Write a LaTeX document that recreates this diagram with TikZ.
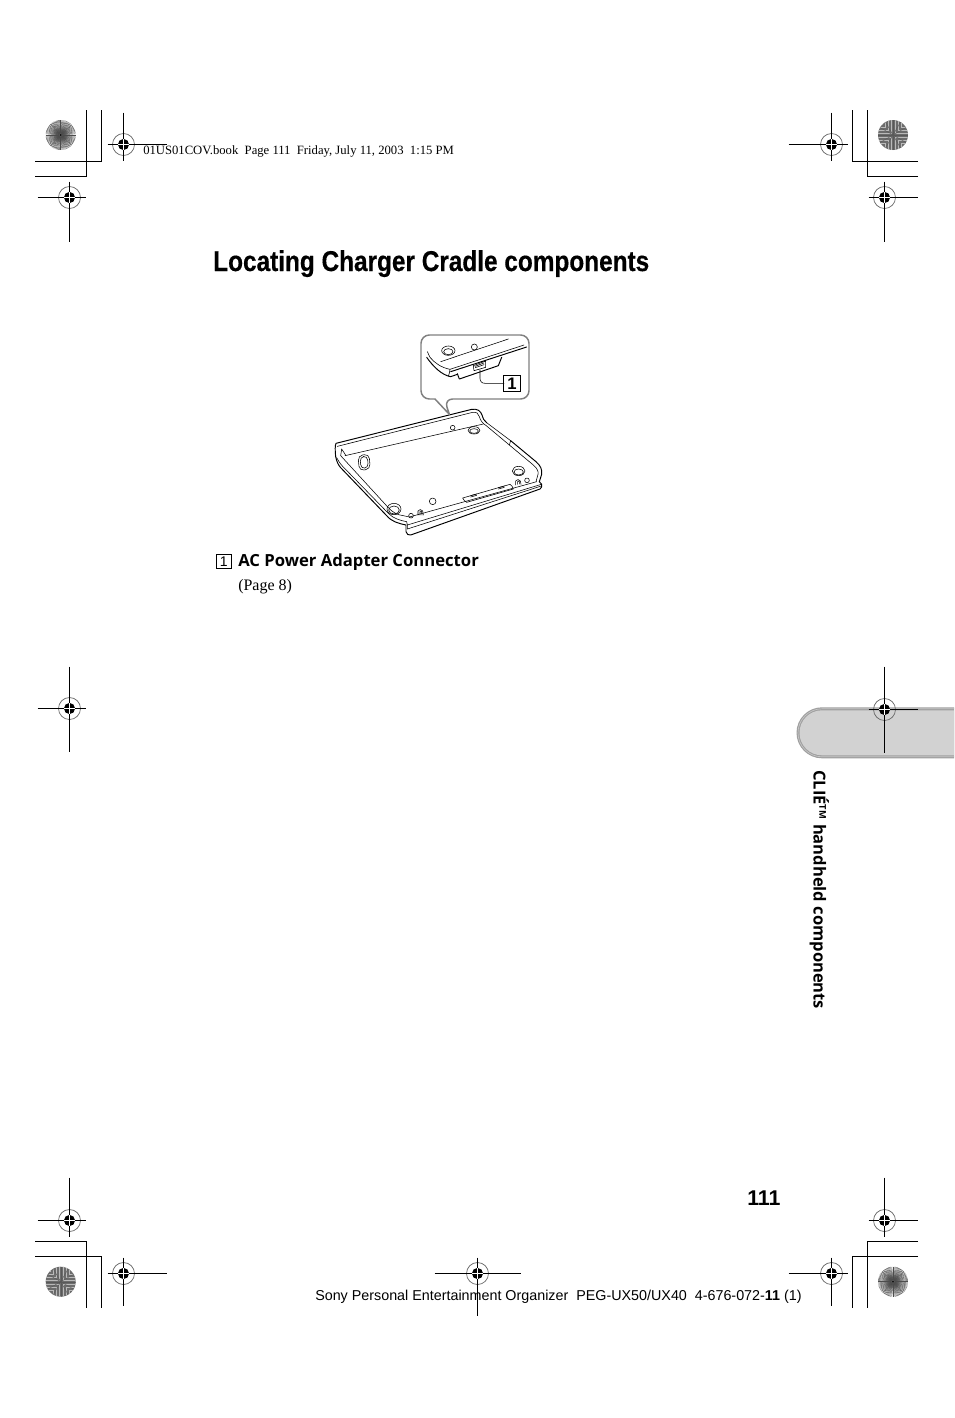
\documentclass[tikz,border=0pt]{standalone}
\usepackage{fontspec}
\setmainfont{Liberation Serif}
\setsansfont{Liberation Sans}
\newfontfamily\titlefont[FakeStretch=0.85,FakeBold=0.4]{Liberation Sans}
\newfontfamily\humanfont{Open Sans}
\tikzset{
  crop/.style={line width=0.78pt,black},
  lineart/.style={line width=0.42pt,black,line join=round,line cap=round},
  heavyart/.style={line width=0.72pt,black,line join=round,line cap=round},
  numbox/.style={draw=black,line width=0.6pt,inner sep=0pt,minimum width=11.5pt,minimum height=10pt,font=\sffamily\fontsize{10.5}{10.5}\selectfont},
  txt/.style={inner sep=0pt,anchor=base west}
}
% #1 x, #2 y, #3 left, #4 right, #5 up, #6 down (lengths in px)
\newcommand{\regmk}[6]{%
  \fill[black] (#1,#2) circle[radius=5.6];
  \draw[gray!75!black,line width=0.5pt] (#1,#2) circle[radius=11];
  \draw[crop] (#1-#3,#2) -- (#1+#4,#2);
  \draw[crop] (#1,#2-#5) -- (#1,#2+#6);
  \draw[white,line width=0.55pt] (#1-5.6,#2) -- (#1+5.6,#2) (#1,#2-5.6) -- (#1,#2+5.6);
}
\newcommand{\sunray}[2]{%
  \fill[white] (#1,#2) circle[radius=15];
  \fill[gray!45] (#1,#2) circle[radius=7];
  \foreach \a in {0,4.5,...,356} \draw[black!70,line width=0.33pt] (#1,#2) -- ++(\a:15);
  \fill[gray!70!black] (#1,#2) circle[radius=1.8];
  \fill[black] (#1,#2) circle[radius=0.9];
}
\newcommand{\sunblock}[2]{%
  \fill[gray!85!black] (#1,#2) circle[radius=15];
  \begin{scope}
    \clip (#1,#2) circle[radius=15];
    \foreach \r in {2,5,...,20} {
      \draw[gray!55,line width=0.3pt] (#1-\r,#2-16) -- (#1-\r,#2-\r) -- (#1-16,#2-\r);
      \draw[gray!55,line width=0.3pt] (#1+\r,#2-16) -- (#1+\r,#2-\r) -- (#1+16,#2-\r);
      \draw[gray!55,line width=0.3pt] (#1-\r,#2+16) -- (#1-\r,#2+\r) -- (#1-16,#2+\r);
      \draw[gray!55,line width=0.3pt] (#1+\r,#2+16) -- (#1+\r,#2+\r) -- (#1+16,#2+\r);
    }
    \foreach \a in {0,30,...,330} \draw[gray!70!black,line width=0.3pt] (#1,#2) -- ++(\a:15);
  \end{scope}
}
\begin{document}
\begin{tikzpicture}[x=0.75pt,y=-0.75pt]
\useasboundingbox (0,0) rectangle (954,1418);
\fill[white] (0,0) rectangle (954,1418);

% side tab (y axis points down: start at the top of the arc, angle 270, and go to 90)
\fill[gray!75] (954,707.3) -- (822,707.3) arc[start angle=270,end angle=90,radius=25.5] -- (954,758.3) -- cycle;
\fill[gray!35] (954,710.3) -- (822,710.3) arc[start angle=270,end angle=90,radius=22.5] -- (954,755.3) -- cycle;
\draw[gray!45,line width=0.5pt] (954,708.8) -- (822,708.8) arc[start angle=270,end angle=90,radius=24] -- (954,756.8);

% crop marks
\draw[crop] (35,176.5) -- (86.5,176.5) -- (86.5,110);
\draw[crop] (35,161.5) -- (101.5,161.5) -- (101.5,110);
\draw[crop] (918,161.5) -- (852.5,161.5) -- (852.5,110);
\draw[crop] (918,176.5) -- (867.5,176.5) -- (867.5,110);
\draw[crop] (35,1241.5) -- (86.5,1241.5) -- (86.5,1307.7);
\draw[crop] (35,1256.5) -- (101.5,1256.5) -- (101.5,1307.7);
\draw[crop] (918,1241.5) -- (867.5,1241.5) -- (867.5,1307.7);
\draw[crop] (918,1256.5) -- (852.5,1256.5) -- (852.5,1307.7);

\sunray{60.7}{135}
\sunblock{893}{135}
\sunblock{60.7}{1281.7}
\sunray{893}{1281.7}

\regmk{123.5}{144.5}{16}{43}{32}{16}
\regmk{69.5}{197.5}{32}{16}{16}{44}
\regmk{831.5}{144.5}{43}{16}{32}{16}
\regmk{884.5}{197.5}{16}{33}{16}{44}
\regmk{69.5}{708.5}{32}{16}{42}{43}
\regmk{884.5}{709.5}{16}{33}{43}{43}
\regmk{69.5}{1220.5}{32}{16}{43}{16}
\regmk{884.5}{1220.5}{16}{33}{43}{16}
\regmk{123.5}{1273.5}{16}{43}{16}{32}
\regmk{831.5}{1273.5}{43}{16}{16}{32}

% texts
\node[txt] (hdr) at (143,154) {\fontsize{9.5}{12}\selectfont 01US01COV.book\ \ Page 111\ \ Friday, July 11, 2003\ \ 1:15 PM};
\node[txt] (title) at (213,271) {\titlefont\bfseries\fontsize{21.5}{26}\selectfont Locating Charger Cradle components};
\node[numbox] (capbox) at (223.8,561.5) {1};
\node[txt] (capmain) at (238,566.5) {\humanfont\bfseries\fontsize{12.5}{14}\selectfont AC Power Adapter Connector};
\node[txt] (cappage) at (238,590) {\fontsize{12}{14}\selectfont (Page 8)};
\node[txt] (pageno) at (747,1205) {\sffamily\bfseries\fontsize{16}{18}\selectfont 111};
\node[txt] (footer) at (315,1300) {\sffamily\fontsize{10.74}{12}\selectfont Sony Personal Entertainment Organizer\ \ PEG-UX50/UX40\ \ 4-676-072-\textbf{11} (1)};
\node[txt,rotate=-90] (side) at (813.5,770) {\humanfont\bfseries\fontsize{12.4}{14}\selectfont CLI\'E\textsuperscript{\fontsize{7}{7}\selectfont TM} handheld components};

% centre mark over the footer
\regmk{477.5}{1273.5}{43}{43}{16}{42}

% illustration, coordinates in 3x crop pixels
\begin{scope}[shift={(320,325)},x=0.25pt,y=-0.25pt]
  % cradle body
  \draw[heavyart] (47,395) .. controls (45,375) and (45,362) .. (48,355) -- (455,253)
     .. controls (472,250) and (482,258) .. (486,270) .. controls (488,280) and (492,287) .. (500,293);
  \draw[lineart] (500,293) -- (572,347);
  \draw[heavyart] (572,347) -- (648,410) .. controls (662,422) and (667,434) .. (665,448) -- (658,470);
  \draw[lineart] (572,347) -- (568,360) -- (640,420) .. controls (652,430) and (656,440) .. (654,448) -- (648,470);
  \draw[lineart] (500,303) -- (568,360);
  \draw[lineart] (52,364) -- (458,262) .. controls (470,260) and (476,266) .. (478,275) .. controls (481,288) and (490,296) .. (500,303);
  \draw[lineart] (65,372) -- (62,392) -- (205,548) .. controls (218,562) and (232,570) .. (250,572) -- (268,576) -- (650,470);
  \draw[lineart] (75,392) -- (490,297);
  \draw[lineart] (65,372) -- (78,392);
  \draw[heavyart] (47,395) .. controls (50,410) and (55,420) .. (62,428) -- (200,572)
     .. controls (215,590) and (235,595) .. (258,600) -- (258,620) .. controls (260,628) and (265,631) .. (272,630)
     -- (660,492) .. controls (665,488) and (666,485) .. (665,478) -- (658,470);
  \draw[lineart] (50,398) .. controls (55,408) and (60,415) .. (68,424) -- (205,565) .. controls (220,580) and (238,586) .. (260,590) -- (262,600) -- (664,478);
  \draw[lineart] (262,600) -- (262,612) -- (664,483);
  % features
  \draw[lineart,rounded corners=3.5pt] (114,392) -- (147,387) -- (151,432) -- (118,437) -- cycle;
  \draw[lineart,rounded corners=3pt] (120,396) -- (142,393) -- (145,428) -- (123,431) -- cycle;
  \draw[lineart] (462,316) ellipse[x radius=18,y radius=11];
  \draw[lineart] (462,318) ellipse[x radius=13,y radius=7];
  \draw[lineart] (398,308) circle[radius=7];
  \draw[lineart] (596,438) ellipse[x radius=19,y radius=14];
  \draw[lineart] (596,441) ellipse[x radius=14,y radius=9];
  \draw[lineart] (222,552) ellipse[x radius=21,y radius=17];
  \draw[lineart] (222,555) ellipse[x radius=16,y radius=12];
  \draw[lineart] (338,529) circle[radius=10];
  \draw[lineart] (273,572) circle[radius=7];
  \draw[lineart] (621,466) circle[radius=7];
  \draw[lineart] (294,570) -- (294,558) .. controls (296,552) and (306,552) .. (308,558) -- (310,570);
  \draw[lineart] (300,570) -- (300,560) .. controls (301,557) and (304,557) .. (305,560) -- (306,570);
  \draw[lineart] (587,480) -- (587,468) .. controls (589,462) and (599,462) .. (601,468) -- (603,478);
  \draw[lineart] (593,478) -- (593,470) .. controls (594,467) and (597,467) .. (598,470) -- (598,477);
  \draw[lineart] (428,519) -- (570,478) .. controls (575,480) and (578,486) .. (580,492) -- (440,532) .. controls (435,530) and (430,524) .. (428,519) -- cycle;
  \draw[lineart] (452,516) -- (470,511) (452,512) -- (470,507) (535,492) -- (553,487) (535,488) -- (553,483);

  % callout
  \draw[gray,line width=1.1pt,fill=white,line join=round,rounded corners=6.25pt]
    (465,30) -- (627,30) -- (627,222) -- (373,222) [sharp corners] -- (388,268) -- (345,222)
    [rounded corners=6.25pt] -- (303,222) -- (303,30) -- (465,30);
  \begin{scope}
    \clip (306,33) rectangle (624,219);
    \draw[lineart] (322,80) -- (330,97) .. controls (345,115) and (365,128) .. (390,133) -- (612,60);
    \draw[heavyart] (320,97) .. controls (340,125) and (365,150) .. (392,155) -- (412,148);
    \draw[heavyart] (392,140) -- (620,66);
    \draw[lineart] (385,154) .. controls (388,148) and (388,142) .. (390,133);
    \draw[lineart] (362,110) -- (565,42);
    \draw[lineart] (385,77) ellipse[x radius=20,y radius=14];
    \draw[lineart] (385,80) ellipse[x radius=14,y radius=9];
    \draw[lineart] (463,66) circle[radius=9];
    \draw[heavyart] (412,146) -- (418,162) -- (535,122) -- (545,97);
    \draw[lineart] (460,122) -- (497,108) -- (497,127) -- (462,137) -- cycle;
    \draw[lineart] (465,124) -- (492,114) (466,128) -- (492,119);
    \draw[lineart] (480,135) -- (480,160) .. controls (480,170) and (486,175) .. (496,175) -- (552,175);
  \end{scope}
  \node[numbox,minimum width=12.7pt,minimum height=12pt,font=\sffamily\bfseries\fontsize{12.5}{12.5}\selectfont] (numa) at (576,176) {1};
\end{scope}
\end{tikzpicture}
\end{document}
